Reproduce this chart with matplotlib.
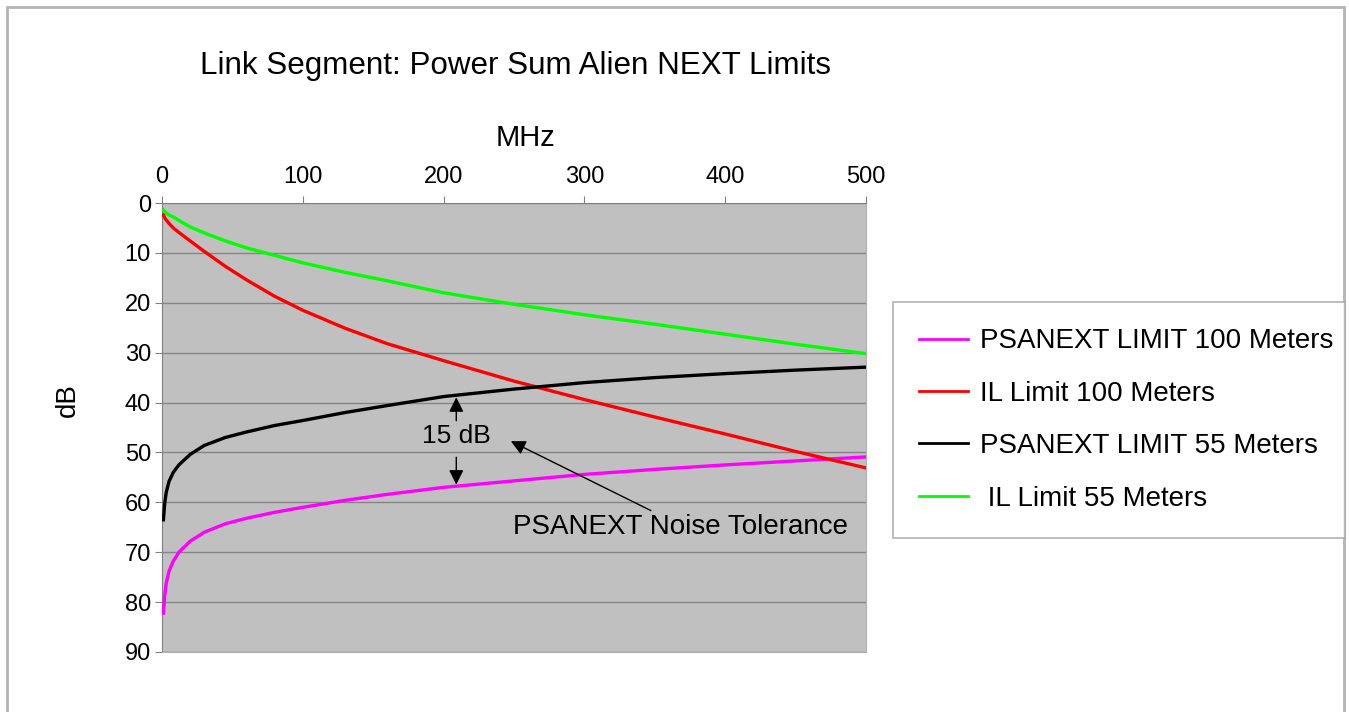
import matplotlib
matplotlib.use("Agg")
import matplotlib.pyplot as plt
from matplotlib.patches import Rectangle

# -----------------------
# Data
# -----------------------
freq = [1, 2, 3, 5, 8, 12, 20, 30, 45, 60, 80, 100, 130, 160, 200, 250, 300, 350, 400, 450, 500]

psanext_100 = [82.2, 78.5, 76.2, 73.8, 71.8, 70.0, 67.8, 66.0, 64.3, 63.2, 62.0, 61.0,
               59.6, 58.4, 57.0, 55.7, 54.4, 53.4, 52.5, 51.7, 50.9]
il_100 = [2.4, 3.0, 3.4, 4.1, 5.0, 5.9, 7.6, 9.7, 12.7, 15.4, 18.7, 21.5,
          25.1, 28.2, 31.6, 35.7, 39.4, 42.9, 46.3, 49.8, 53.1]
psanext_55 = [63.5, 60.0, 58.0, 55.8, 54.0, 52.5, 50.4, 48.6, 47.0, 45.9, 44.6, 43.6,
              42.0, 40.6, 38.8, 37.3, 36.0, 35.0, 34.2, 33.5, 32.9]
il_55 = [1.4, 1.7, 2.0, 2.4, 2.8, 3.5, 4.8, 6.0, 7.6, 9.0, 10.5, 12.0,
         13.9, 15.6, 18.0, 20.3, 22.4, 24.3, 26.3, 28.3, 30.2]

labels = ["PSANEXT LIMIT 100 Meters", "IL Limit 100 Meters",
          "PSANEXT LIMIT 55 Meters", " IL Limit 55 Meters"]
colors = ["#ff00ff", "#ff0000", "#000000", "#00ff00"]

x_ticks = [0, 100, 200, 300, 400, 500]
y_ticks = [0, 10, 20, 30, 40, 50, 60, 70, 80, 90]

# annotation anchors (MHz, dB)
gap_freq = 209
gap_top, gap_bottom = 38.4, 57.0
note_head = (246, 47.5)
note_tail = (349, 61.9)

# -----------------------
# Plot
# -----------------------
plt.rcParams["font.family"] = ["Liberation Sans", "DejaVu Sans"]

fig = plt.figure(figsize=(13.49, 7.12), dpi=100)
ax = fig.add_axes([162 / 1349, 60 / 712, 704 / 1349, 449 / 712])
ax.set_facecolor("#c0c0c0")

series = [psanext_100, il_100, psanext_55, il_55]
for vals, lab, col in zip(series, labels, colors):
    ax.plot(freq, vals, color=col, lw=2.4, label=lab, zorder=3)

ax.set_xlim(0, 500)
ax.set_ylim(90, 0)
ax.xaxis.tick_top()
ax.set_xticks(x_ticks)
ax.set_yticks(y_ticks)
ax.grid(axis="y", color="#858585", lw=1, zorder=1)
ax.tick_params(labelsize=17, length=5, color="#808080")
ax.tick_params(axis="x", pad=6)
ax.tick_params(axis="y", pad=3)

for side in ["top", "left"]:
    ax.spines[side].set_color("#808080")
for side in ["right", "bottom"]:
    ax.spines[side].set_color("#b0b0b0")

ax.set_xlabel("MHz", fontsize=21)
ax.xaxis.set_label_position("top")
ax.xaxis.set_label_coords((525 - 162) / 704, (652 - 138) / 449)
ax.xaxis.label.set_va("center")
ax.set_ylabel("dB", fontsize=20)
ax.yaxis.set_label_coords((68 - 162) / 704, (652 - 400) / 449)
ax.yaxis.label.set_va("center")

fig.text(515 / 1349, 1 - 66 / 712, "Link Segment: Power Sum Alien NEXT Limits",
         fontsize=22.6, ha="center", va="center")

# 15 dB gap arrows
ax.text(gap_freq, 46.8, "15 dB", fontsize=19, ha="center", va="center", zorder=4)
arrow = dict(arrowstyle="-|>", color="black", lw=1, mutation_scale=22)
ax.annotate("", xy=(gap_freq, gap_top), xytext=(gap_freq, 44.2), arrowprops=arrow)
ax.annotate("", xy=(gap_freq, gap_bottom), xytext=(gap_freq, 50.4), arrowprops=arrow)

ax.annotate("", xy=note_head, xytext=note_tail, arrowprops=arrow)
ax.text(368, 65.0, "PSANEXT Noise Tolerance", fontsize=20, ha="center", va="center")

leg = fig.legend(loc="upper left",
                 bbox_to_anchor=(893 / 1349, 184 / 712, 452 / 1349, 226 / 712),
                 mode="expand", fontsize=20, frameon=True, fancybox=False,
                 borderaxespad=0, borderpad=0.95, handlelength=1.75,
                 handletextpad=0.45, labelspacing=0.95)
leg.get_frame().set_edgecolor("#a0a0a0")
leg.get_frame().set_linewidth(1.2)
for line in leg.get_lines():
    line.set_linewidth(2)

# outer chart border
fig.add_artist(Rectangle((7 / 1349, -0.1), 1337 / 1349, (712 - 7) / 712 + 0.1,
                         transform=fig.transFigure, fill=False,
                         edgecolor="#b4b4b4", lw=2))

fig.savefig("out.png", dpi=100)
